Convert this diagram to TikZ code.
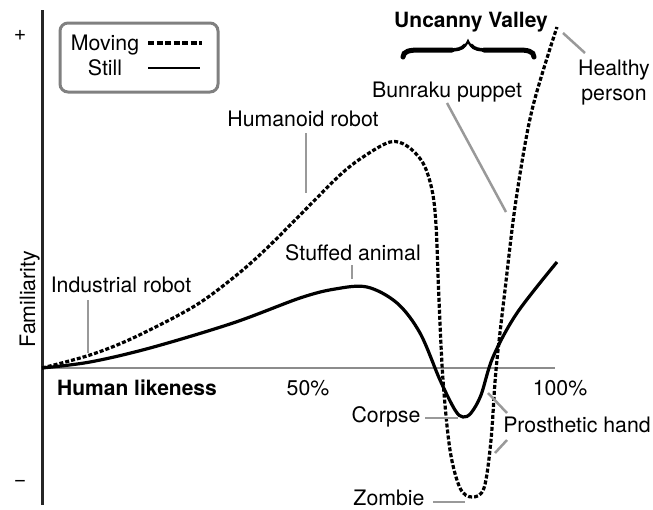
\documentclass[tikz,border=0pt]{standalone}
\usepackage{fontspec}
\setmainfont{TeX Gyre Heros}
\definecolor{lblgray}{gray}{0.6}
\definecolor{legframe}{gray}{0.5}
\definecolor{axgray}{gray}{0.55}
\definecolor{axdark}{gray}{0.15}
\begin{document}
\begin{tikzpicture}[x=1pt,y=-1pt,
  txt/.style={font=\fontsize{21.3}{25}\selectfont, inner sep=0pt, anchor=base},
  btxt/.style={txt, font=\fontsize{21}{25}\selectfont\bfseries},
  lead/.style={draw=lblgray, line width=2.5pt},
  moving/.style={line width=3.2pt, dash pattern=on 4pt off 2pt},
  still/.style={line width=3.2pt},
  bracebar/.style={line width=5pt, line cap=round},
  bracetip/.style={line width=2.2pt, line cap=round},
]
\useasboundingbox (0,0) rectangle (653,509);

% axes
\coordinate (ytop) at (42,10);
\coordinate (ybot) at (42,505);
\coordinate (orig) at (42,368);
\coordinate (xend) at (555,368);
\draw[axgray, line width=1.8pt] (orig) -- (xend);
\draw[axdark, line width=3pt] (ytop) -- (ybot);

\node[txt, anchor=center] (plus) at (20,35) {+};
\node[txt, anchor=center] (minus) at (20,483) {−};
\node[txt, rotate=90] (fam) at (35,299) {Familiarity};

% curves
\draw[still] plot[smooth, tension=0.55] coordinates {
  (42,368) (90,362) (150,348) (233,323) (300,298) (335,289) (367,287)
  (397,303) (420,333) (440,380) (455,410) (463,417) (471,413) (481,395)
  (493,357) (517,313) (557,262)};
\draw[moving] plot[smooth, tension=0.55] coordinates {
  (42,368) (90,355) (133,338) (193,307) (233,278) (265,250) (305,210)
  (340,175) (363,157) (390,142) (407,146) (423,163) (432,190)
  (436,225) (439,300) (443,380) (450,450) (460,488)
  (472,497) (484,488) (491,440) (496,370) (505,290) (516,200) (532,110)
  (557,27)};

% legend
\node[draw=legframe, line width=3pt, rounded corners=8pt,
      minimum width=158pt, minimum height=69pt] (legend) at (139,57.5) {};
\node[txt] (lmov) at (105,50) {Moving};
\node[txt] (lstill) at (105,75) {Still};
\coordinate (lm1) at (148,43); \coordinate (lm2) at (202,43);
\coordinate (ls1) at (148,68); \coordinate (ls2) at (200,68);
\draw[line width=3.2pt, dash pattern=on 6pt off 2.5pt] (lm1) -- (lm2);
\draw[line width=2.2pt] (ls1) -- (ls2);

% Uncanny valley brace
\node[btxt] (uv) at (471,27) {Uncanny Valley};
\coordinate (brl) at (403,57);
\coordinate (brla) at (420,50);
\coordinate (brlb) at (452,50);
\coordinate (brtip) at (468,41);
\coordinate (brrb) at (484,50);
\coordinate (brra) at (518,50);
\coordinate (brr) at (534,57);
\draw[bracebar] (brl) .. controls (403,51) and (410,50) .. (brla) -- (brlb);
\draw[bracebar] (brrb) -- (brra) .. controls (527,50) and (534,51) .. (brr);
\draw[bracetip] (brlb) .. controls (460,50) and (465,48) .. (brtip)
  .. controls (471,48) and (476,50) .. (brrb);
\draw[line width=3.5pt, line cap=round] (446,50) .. controls (458,50) and (462,49) .. (465,45);
\draw[line width=3.5pt, line cap=round] (490,50) .. controls (478,50) and (474,49) .. (471,45);

\node[txt] (hum) at (303,126) {Humanoid robot};
\coordinate (hum1) at (306,133); \coordinate (hum2) at (306,193);
\draw[lead] (hum1) -- (hum2);

\node[txt] (ind) at (121,292) {Industrial robot};
\coordinate (ind1) at (88,300); \coordinate (ind2) at (88,353);
\draw[lead] (ind1) -- (ind2);

\node[txt] (stf) at (353,260) {Stuffed animal};
\coordinate (stf1) at (352,265); \coordinate (stf2) at (352,279);
\draw[lead] (stf1) -- (stf2);

\node[txt] (bun) at (447,97) {Bunraku puppet};
\coordinate (bun1) at (447,103); \coordinate (bun2) at (506,212);
\draw[lead] (bun1) -- (bun2);

\node[txt] (hea) at (614,75) {Healthy};
\node[txt] (per) at (614,100) {person};
\coordinate (hea1) at (563,33); \coordinate (hea2) at (585,53);
\draw[lead] (hea1) -- (hea2);

\node[btxt] (hl) at (137,395) {Human likeness};
\node[txt] (p50) at (308,395) {50\%};
\node[txt] (p100) at (560,395) {100\%};

\node[txt] (cor) at (386,422) {Corpse};
\coordinate (cor1) at (425,418); \coordinate (cor2) at (458,418);
\draw[lead] (cor1) -- (cor2);

\node[txt] (pro) at (577,432) {Prosthetic hand};
\coordinate (pro1) at (507,413); \coordinate (pro2) at (488,393);
\coordinate (pro3) at (507,440); \coordinate (pro4) at (495,453);
\draw[lead] (pro1) -- (pro2);
\draw[lead] (pro3) -- (pro4);

\node[txt] (zom) at (389,505) {Zombie};
\coordinate (zom1) at (433,502); \coordinate (zom2) at (465,502);
\draw[lead] (zom1) -- (zom2);
\end{tikzpicture}
\end{document}
